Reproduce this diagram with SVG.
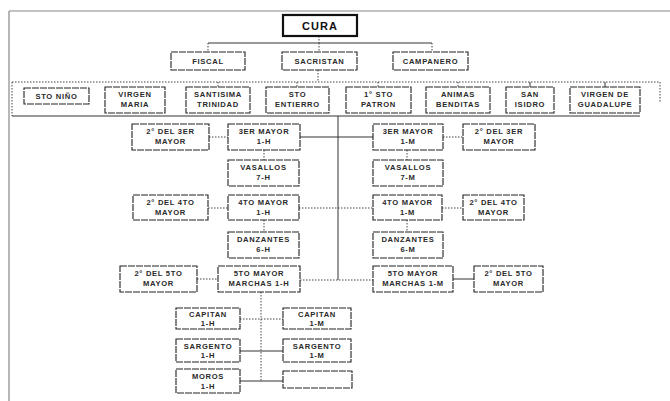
<svg xmlns="http://www.w3.org/2000/svg" width="670" height="401" viewBox="0 0 670 401">
<style>
.bx{fill:#fff;stroke:#222;stroke-width:1.1;stroke-dasharray:7 1}
.bk{fill:#fff;stroke:#111;stroke-width:2.2}
.t{font-family:"Liberation Sans",Arial,sans-serif;font-size:7.6px;font-weight:bold;fill:#2a2a2a;text-anchor:middle;letter-spacing:0.7px}
.tc{font-family:"Liberation Sans",Arial,sans-serif;font-size:11px;font-weight:bold;fill:#111;text-anchor:middle;letter-spacing:1px}
.c{stroke:#333;stroke-width:1;fill:none}
.d{stroke:#444;stroke-width:1;fill:none;stroke-dasharray:1.5 1.5}
.f{stroke:#888;stroke-width:1.2;fill:none}
</style>
<rect width="670" height="401" fill="#fff"/>
<g id="frame">
<line class="f" x1="9" y1="11" x2="670" y2="11"/>
<line class="f" x1="9" y1="11" x2="9" y2="401"/>
</g>
<g id="connectors">
<line class="d" x1="319" y1="36" x2="319" y2="43"/>
<line class="c" x1="208" y1="43" x2="432" y2="43"/>
<line class="d" x1="208" y1="43" x2="208" y2="52"/>
<line class="d" x1="319" y1="43" x2="319" y2="52"/>
<line class="d" x1="432" y1="43" x2="432" y2="52"/>
<line class="d" x1="318" y1="70" x2="318" y2="82"/>
<line class="d" x1="12" y1="82" x2="660" y2="82"/>
<line class="d" x1="12" y1="82" x2="12" y2="116"/>
<line class="d" x1="660" y1="82" x2="660" y2="102"/>
<line class="c" x1="12" y1="116" x2="640" y2="116"/>
<line class="d" x1="218" y1="82" x2="218" y2="87"/>
<line class="d" x1="297" y1="82" x2="297" y2="87"/>
<line class="d" x1="378" y1="82" x2="378" y2="87"/>
<line class="d" x1="458" y1="82" x2="458" y2="87"/>
<line class="c" x1="530" y1="82" x2="530" y2="87"/>
<line class="c" x1="605" y1="82" x2="605" y2="87"/>
<line class="c" x1="338" y1="116" x2="338" y2="280"/>
<line class="d" x1="209" y1="137" x2="228" y2="137"/>
<line class="c" x1="300" y1="137" x2="373" y2="137"/>
<line class="d" x1="443" y1="137" x2="463" y2="137"/>
<line class="d" x1="264" y1="150" x2="264" y2="160"/>
<line class="d" x1="407" y1="150" x2="407" y2="160"/>
<line class="d" x1="208" y1="208" x2="228" y2="208"/>
<line class="d" x1="299" y1="208" x2="373" y2="208"/>
<line class="d" x1="442" y1="208" x2="463" y2="208"/>
<line class="d" x1="264" y1="220" x2="264" y2="232"/>
<line class="d" x1="407" y1="220" x2="407" y2="232"/>
<line class="d" x1="197" y1="279" x2="218" y2="279"/>
<line class="d" x1="300" y1="280" x2="373" y2="280"/>
<line class="c" x1="453" y1="279" x2="474" y2="279"/>
<line class="d" x1="261" y1="292" x2="261" y2="381"/>
<line class="d" x1="240" y1="319" x2="283" y2="319"/>
<line class="c" x1="240" y1="351" x2="283" y2="351"/>
<line class="c" x1="240" y1="381" x2="283" y2="381"/>
</g>
<g id="cura"><rect class="bk" x="283" y="15" width="74" height="21"/><text class="tc" x="320" y="30">CURA</text></g>
<g id="fiscal"><rect class="bx" x="171" y="52" width="74" height="18"/><text class="t" x="208" y="64">FISCAL</text></g>
<g id="sacristan"><rect class="bx" x="282" y="52" width="75" height="18"/><text class="t" x="319.5" y="64">SACRISTAN</text></g>
<g id="campanero"><rect class="bx" x="393" y="52" width="75" height="18"/><text class="t" x="430.5" y="64">CAMPANERO</text></g>
<g id="sto-nino"><rect class="bx" x="24" y="88" width="65" height="16"/><text class="t" x="56.5" y="99">STO NIÑO</text></g>
<g id="virgen-maria"><rect class="bx" x="105" y="87" width="60" height="26"/><text class="t" x="135" y="97">VIRGEN</text><text class="t" x="135" y="107">MARIA</text></g>
<g id="santisima"><rect class="bx" x="186" y="87" width="64" height="26"/><text class="t" x="218" y="97">SANTISIMA</text><text class="t" x="218" y="107">TRINIDAD</text></g>
<g id="sto-entierro"><rect class="bx" x="266" y="87" width="63" height="26"/><text class="t" x="297.5" y="97">STO</text><text class="t" x="297.5" y="107">ENTIERRO</text></g>
<g id="sto-patron"><rect class="bx" x="346" y="87" width="65" height="26"/><text class="t" x="378.5" y="97">1° STO</text><text class="t" x="378.5" y="107">PATRON</text></g>
<g id="animas"><rect class="bx" x="426" y="87" width="64" height="26"/><text class="t" x="458" y="97">ANIMAS</text><text class="t" x="458" y="107">BENDITAS</text></g>
<g id="san-isidro"><rect class="bx" x="506" y="87" width="48" height="26"/><text class="t" x="530" y="97">SAN</text><text class="t" x="530" y="107">ISIDRO</text></g>
<g id="guadalupe"><rect class="bx" x="570" y="87" width="70" height="26"/><text class="t" x="605" y="97">VIRGEN DE</text><text class="t" x="605" y="107">GUADALUPE</text></g>
<g id="seg-3er-h"><rect class="bx" x="132" y="124" width="77" height="26"/><text class="t" x="170.5" y="134">2° DEL 3ER</text><text class="t" x="170.5" y="144">MAYOR</text></g>
<g id="may-3er-h"><rect class="bx" x="228" y="124" width="72" height="26"/><text class="t" x="264" y="134">3ER MAYOR</text><text class="t" x="264" y="144">1-H</text></g>
<g id="vasallos-h"><rect class="bx" x="228" y="160" width="71" height="26"/><text class="t" x="263.5" y="170">VASALLOS</text><text class="t" x="263.5" y="180">7-H</text></g>
<g id="seg-4to-h"><rect class="bx" x="133" y="195" width="75" height="25"/><text class="t" x="170.5" y="205">2° DEL 4TO</text><text class="t" x="170.5" y="215">MAYOR</text></g>
<g id="may-4to-h"><rect class="bx" x="228" y="195" width="71" height="25"/><text class="t" x="263.5" y="205">4TO MAYOR</text><text class="t" x="263.5" y="215">1-H</text></g>
<g id="danzantes-h"><rect class="bx" x="228" y="232" width="71" height="26"/><text class="t" x="263.5" y="242">DANZANTES</text><text class="t" x="263.5" y="252">6-H</text></g>
<g id="seg-5to-h"><rect class="bx" x="120" y="266" width="77" height="26"/><text class="t" x="158.5" y="276">2° DEL 5TO</text><text class="t" x="158.5" y="286">MAYOR</text></g>
<g id="may-5to-h"><rect class="bx" x="218" y="266" width="82" height="26"/><text class="t" x="259" y="276">5TO MAYOR</text><text class="t" x="259" y="286">MARCHAS 1-H</text></g>
<g id="may-3er-m"><rect class="bx" x="373" y="124" width="70" height="26"/><text class="t" x="408" y="134">3ER MAYOR</text><text class="t" x="408" y="144">1-M</text></g>
<g id="seg-3er-m"><rect class="bx" x="463" y="124" width="72" height="26"/><text class="t" x="499" y="134">2° DEL 3ER</text><text class="t" x="499" y="144">MAYOR</text></g>
<g id="vasallos-m"><rect class="bx" x="373" y="160" width="70" height="26"/><text class="t" x="408" y="170">VASALLOS</text><text class="t" x="408" y="180">7-M</text></g>
<g id="may-4to-m"><rect class="bx" x="373" y="195" width="69" height="25"/><text class="t" x="407.5" y="205">4TO MAYOR</text><text class="t" x="407.5" y="215">1-M</text></g>
<g id="seg-4to-m"><rect class="bx" x="463" y="195" width="61" height="25"/><text class="t" x="493.5" y="205">2° DEL 4TO</text><text class="t" x="493.5" y="215">MAYOR</text></g>
<g id="danzantes-m"><rect class="bx" x="373" y="232" width="70" height="26"/><text class="t" x="408" y="242">DANZANTES</text><text class="t" x="408" y="252">6-M</text></g>
<g id="may-5to-m"><rect class="bx" x="373" y="266" width="80" height="26"/><text class="t" x="413" y="276">5TO MAYOR</text><text class="t" x="413" y="286">MARCHAS 1-M</text></g>
<g id="seg-5to-m"><rect class="bx" x="474" y="266" width="69" height="26"/><text class="t" x="508.5" y="276">2° DEL 5TO</text><text class="t" x="508.5" y="286">MAYOR</text></g>
<g id="capitan-h"><rect class="bx" x="176" y="308" width="64" height="21"/><text class="t" x="208" y="317">CAPITAN</text><text class="t" x="208" y="326">1-H</text></g>
<g id="capitan-m"><rect class="bx" x="283" y="308" width="68" height="21"/><text class="t" x="317" y="317">CAPITAN</text><text class="t" x="317" y="326">1-M</text></g>
<g id="sargento-h"><rect class="bx" x="176" y="339" width="64" height="23"/><text class="t" x="208" y="349">SARGENTO</text><text class="t" x="208" y="358">1-H</text></g>
<g id="sargento-m"><rect class="bx" x="283" y="339" width="68" height="23"/><text class="t" x="317" y="349">SARGENTO</text><text class="t" x="317" y="358">1-M</text></g>
<g id="moros"><rect class="bx" x="176" y="369" width="64" height="24"/><text class="t" x="208" y="379">MOROS</text><text class="t" x="208" y="389">1-H</text></g>
<g id="empty"><rect class="bx" x="283" y="371" width="69" height="17"/></g>
</svg>
